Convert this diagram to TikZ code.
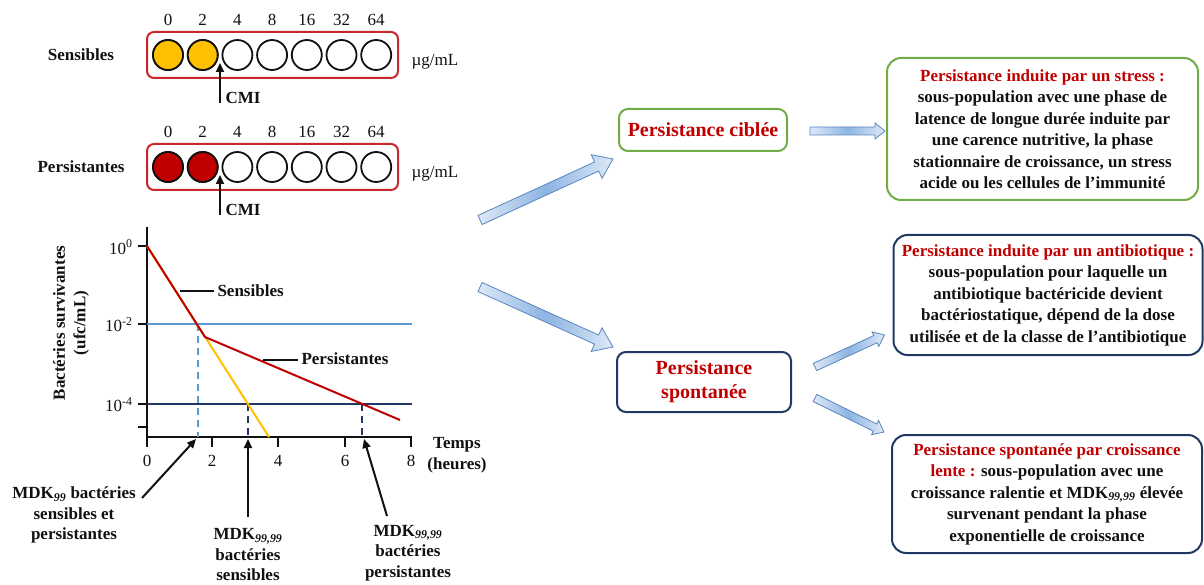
\documentclass[tikz,border=0pt]{standalone}
\usepackage{fontspec}
\setmainfont{Liberation Serif}
\usepackage{xcolor}
\definecolor{ink}{HTML}{111111}
\definecolor{wellred}{HTML}{C00000}
\definecolor{platered}{HTML}{C8282D}
\definecolor{gold}{HTML}{FFC000}
\definecolor{leaf}{HTML}{70AD47}
\definecolor{navy}{HTML}{1F3864}
\definecolor{sky}{HTML}{5B9BD5}
\definecolor{arrline}{HTML}{5A86C0}
\definecolor{arrlight}{HTML}{DDE9F7}
\definecolor{arrmid}{HTML}{8DB4E2}
\usetikzlibrary{arrows.meta,calc}

% block arrow: from, to, half shaft, half head, head length
\newcommand{\fatarrow}[5]{%
  \coordinate (fh) at ($(#2)!#5!(#1)$);
  \path[fat] ($(#1)!#3!-90:(#2)$) -- ($(fh)!#3!90:(#1)$) -- ($(fh)!#4!90:(#1)$) -- (#2)
    -- ($(fh)!#4!-90:(#1)$) -- ($(fh)!#3!-90:(#1)$) -- ($(#1)!#3!90:(#2)$) -- cycle;
}

\tikzset{
  well/.style={draw=ink, line width=1.8pt},
  plate/.style={draw=platered, line width=2pt, rounded corners=7pt},
  pointer/.style={draw=ink, line width=2pt, -{Triangle[length=9pt,width=8pt]}},
  lbl/.style={font=\fontsize{17}{20.5}\selectfont\bfseries, text=ink},
  num/.style={font=\fontsize{17}{20.5}\selectfont, text=ink},
  fat/.style={draw=arrline, line width=0.8pt, left color=arrlight, right color=arrlight, middle color=arrmid},
  mainbox/.style={rounded corners=9pt, line width=2pt, align=center, font=\fontsize{20}{24}\selectfont\bfseries, text=wellred},
  infobox/.style={rounded corners=14pt, line width=2pt, align=center, inner sep=2pt, font=\fontsize{17}{21.5}\selectfont\bfseries, text=ink},
}

\begin{document}
\begin{tikzpicture}[x=1pt,y=-1pt]
  \useasboundingbox (0,0) rectangle (1204,585);
  % wells
  \foreach \row/\yy/\fillc/\name in {1/55/gold/Sensibles, 2/167/wellred/Persistantes}{
    \node[lbl] (row\row) at (81,\yy) {\name};
    \draw[plate] (147,\yy-23) rectangle (398,\yy+23);
    \foreach \c [count=\i from 0] in {0,2,4,8,16,32,64}{
      \node[num] (c\row\i) at (168+34.7*\i,\yy-35) {\c};
      \draw[well, fill=white] (168+34.7*\i,\yy) circle (15pt);
    }
    \foreach \i in {0,1}
      \draw[well, fill=\fillc] (168+34.7*\i,\yy) circle (15pt);
    \node[num] (unit\row) at (435,\yy+7) {µg/mL};
    \node[lbl, anchor=west] (cmi\row) at (222,\yy+43) {CMI};
    \coordinate (cmitip\row) at (220,\yy+8);
    \draw[pointer] (cmi\row.west) ++(-2,5) -- (cmitip\row);
  }
  % axes
  \draw[ink, line width=2pt] (147,227) -- (147,437) -- (412,437);
  \foreach \t/\xx in {0/147,2/212,4/278,6/345,8/411}{
    \draw[ink, line width=2pt] (\xx,437) -- (\xx,447);
    \node[num] (t\t) at (\xx,461) {\t};
  }
  \foreach \yy in {246,324,404,427}
    \draw[ink, line width=2pt] (138,\yy) -- (147,\yy);
  \node[num, anchor=east] (y0) at (136,247) {10\textsuperscript{0}};
  \node[num, anchor=east] (y2) at (136,325) {10\textsuperscript{-2}};
  \node[num, anchor=east] (y4) at (136,405) {10\textsuperscript{-4}};
  \node[lbl, rotate=90, align=center] (ylab) at (71,323) {Bactéries survivantes\\(ufc/mL)};
  \node[lbl, align=center] (temps) at (457,455) {Temps\\(heures)};
  % thresholds
  \draw[sky, line width=2pt] (147,324) -- (412,324);
  \draw[navy, line width=2pt] (147,404) -- (412,404);
  \draw[sky, line width=2pt, dash pattern=on 7pt off 5pt] (198,324) -- (198,437);
  \draw[navy, line width=2pt, dash pattern=on 7pt off 5pt] (248,404) -- (248,437);
  \draw[navy, line width=2pt, dash pattern=on 7pt off 5pt] (362,404) -- (362,437);
  % kill curves
  \draw[gold, line width=2pt] (147,246) -- (269,437);
  \draw[wellred, line width=2pt] (147,246) -- (205,337) -- (400,420);
  \node[lbl, anchor=west] (sens) at (214,291) {Sensibles};
  \draw[ink, line width=2pt] (sens.west) -- ++(-34,0);
  \node[lbl, anchor=west] (pers) at (298,359) {Persistantes};
  \draw[ink, line width=2pt] (pers.west) ++(0,1) -- ++(-35,0);
  % MDK labels
  \node[lbl, align=center] (mdkA) at (74,515) {MDK\textsubscript{\textit{99}} bactéries\\sensibles et\\persistantes};
  \node[lbl, align=center] (mdkB) at (248,555) {MDK\textsubscript{\textit{99,99}}\\bactéries\\sensibles};
  \node[lbl, align=center] (mdkC) at (408,553) {MDK\textsubscript{\textit{99,99}}\\bactéries\\persistantes};
  \coordinate (tipA) at (196,439);
  \coordinate (tipB) at (248,439);
  \coordinate (tipC) at (364,439);
  \draw[pointer] (142,498) -- (tipA);
  \draw[pointer] (mdkB.north) ++(0,-8) -- (tipB);
  \draw[pointer] (387,516) -- (tipC);
  % persistence types
  \node[mainbox, draw=leaf, minimum width=168pt, minimum height=42pt] (cib) at (703,130) {Persistance ciblée};
  \node[mainbox, draw=navy, minimum width=174pt, minimum height=60pt] (spo) at (704,382) {Persistance\\spontanée};
  \node[infobox, draw=leaf, minimum width=311pt, minimum height=142pt] (stress) at (1042.5,129)
    {\textcolor{wellred}{Persistance induite par un stress :}\\sous-population avec une phase de\\latence de longue durée induite par\\une carence nutritive, la phase\\stationnaire de croissance, un stress\\acide ou les cellules de l’immunité};
  \node[infobox, draw=navy, minimum width=309pt, minimum height=120pt] (antib) at (1048,295)
    {\textcolor{wellred}{Persistance induite par un antibiotique :}\\sous-population pour laquelle un\\antibiotique bactéricide devient\\bactériostatique, dépend de la dose\\utilisée et de la classe de l’antibiotique};
  \node[infobox, draw=navy, minimum width=310pt, minimum height=118pt] (lente) at (1047,494)
    {\textcolor{wellred}{Persistance spontanée par croissance}\\\textcolor{wellred}{lente :} sous-population avec une\\croissance ralentie et MDK\textsubscript{\textit{99,99}} élevée\\survenant pendant la phase\\exponentielle de croissance};
  % block arrows
  \coordinate (upTail) at (480,220);
  \coordinate (upTip) at ($(cib.south west)+(-5,7)$);
  \coordinate (dnTail) at (480,287);
  \coordinate (dnTip) at ($(spo.north west)+(-3,-4)$);
  \fatarrow{upTail}{upTip}{5pt}{13pt}{18pt}
  \fatarrow{dnTail}{dnTip}{5pt}{13pt}{18pt}
  \coordinate (cTail) at ($(cib.east)+(22,1)$);
  \coordinate (cTip) at ($(stress.west)+(-1,2)$);
  \fatarrow{cTail}{cTip}{4pt}{8pt}{10pt}
  \coordinate (dTail) at (815,367);
  \coordinate (dTip) at ($(antib.west)+(-8,40)$);
  \fatarrow{dTail}{dTip}{4pt}{8pt}{10pt}
  \coordinate (eTail) at (815,398);
  \coordinate (eTip) at ($(lente.north west)+(-7,-2)$);
  \fatarrow{eTail}{eTip}{4pt}{8pt}{10pt}
\end{tikzpicture}
\end{document}
